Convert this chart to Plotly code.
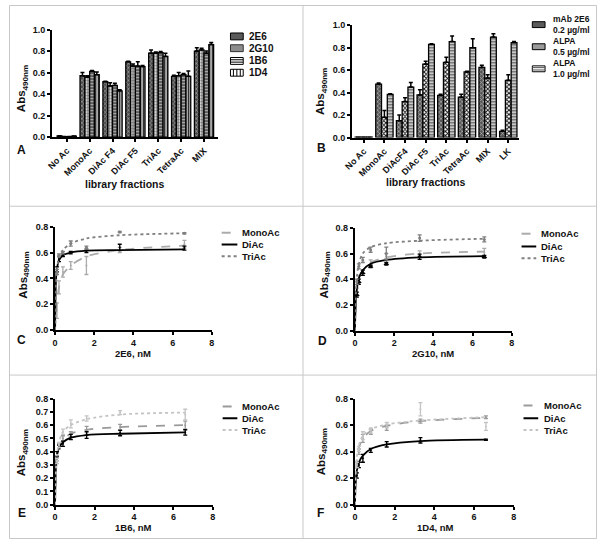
import plotly.graph_objects as go

W, H = 600, 544
def fx(p): return p / W
def fy(p): return 1 - p / H

FONT = "Liberation Sans, Arial, sans-serif"

# ---------------- Panel A data ----------------
A_CATS = ["No Ac", "MonoAc", "DiAc F4", "DiAc F5", "TriAc", "TetraAc", "MIX"]
A_2E6 = [0.010, 0.570, 0.515, 0.700, 0.780, 0.565, 0.800]
A_2E6_ERR = [0.003, 0.030, 0.005, 0.005, 0.030, 0.010, 0.030]
A_2G10 = [0.003, 0.555, 0.475, 0.660, 0.780, 0.570, 0.810]
A_2G10_ERR = [0.002, 0.015, 0.030, 0.020, 0.010, 0.030, 0.015]
A_1B6 = [0.003, 0.610, 0.480, 0.660, 0.785, 0.580, 0.780]
A_1B6_ERR = [0.002, 0.010, 0.020, 0.040, 0.010, 0.010, 0.020]
A_1D4 = [0.008, 0.580, 0.430, 0.655, 0.750, 0.565, 0.860]
A_1D4_ERR = [0.002, 0.025, 0.010, 0.010, 0.030, 0.050, 0.020]

# ---------------- Panel B data ----------------
B_CATS = ["No Ac", "MonoAc", "DiAcF4", "DiAc F5", "TriAc", "TetraAc", "MIX", "LK"]
B_MAB = [0.003, 0.475, 0.150, 0.380, 0.375, 0.360, 0.625, 0.055]
B_MAB_ERR = [0.0, 0.010, 0.050, 0.045, 0.010, 0.025, 0.020, 0.010]
B_ALPA05 = [0.003, 0.180, 0.320, 0.655, 0.670, 0.585, 0.530, 0.510]
B_ALPA05_ERR = [0.0, 0.060, 0.035, 0.025, 0.045, 0.005, 0.030, 0.050]
B_ALPA10 = [0.003, 0.385, 0.450, 0.830, 0.855, 0.800, 0.895, 0.845]
B_ALPA10_ERR = [0.0, 0.005, 0.040, 0.005, 0.050, 0.080, 0.030, 0.010]

# ---------------- Binding panels (C-F) ----------------
CONC = [0.1, 0.2, 0.4, 0.8, 1.6, 3.3, 6.6]
CURVE_X = [0, 0.05, 0.1, 0.2, 0.4, 0.8, 1.6, 3.3, 6.6]

# C: 2E6
C_MONO_CURVE = [0, 0.12, 0.22, 0.33, 0.43, 0.50, 0.57, 0.62, 0.655]
C_DI_CURVE = [0, 0.40, 0.48, 0.54, 0.58, 0.60, 0.615, 0.62, 0.625]
C_TRI_CURVE = [0, 0.35, 0.47, 0.56, 0.62, 0.67, 0.71, 0.735, 0.75]
C_MONO = [0.15, 0.33, 0.45, 0.50, 0.50, 0.62, 0.665]
C_MONO_ERR = [0.06, 0.05, 0.04, 0.03, 0.07, 0.02, 0.03]
C_DI = [0.47, 0.55, 0.58, 0.60, 0.61, 0.64, 0.635]
C_DI_ERR = [0.02, 0.02, 0.01, 0.01, 0.01, 0.025, 0.015]
C_TRI = [0.45, 0.58, 0.60, 0.67, 0.64, 0.76, 0.75]
C_TRI_ERR = [0.02, 0.01, 0.01, 0.02, 0.01, 0.005, 0.005]

# D: 2G10
D_MONO_CURVE = [0, 0.20, 0.30, 0.40, 0.47, 0.53, 0.57, 0.60, 0.615]
D_DI_CURVE = [0, 0.25, 0.33, 0.41, 0.47, 0.52, 0.55, 0.57, 0.58]
D_TRI_CURVE = [0, 0.30, 0.42, 0.52, 0.60, 0.65, 0.68, 0.70, 0.715]
D_MONO = [0.30, 0.40, 0.45, 0.53, 0.58, 0.60, 0.61]
D_MONO_ERR = [0.03, 0.03, 0.02, 0.02, 0.02, 0.02, 0.03]
D_DI = [0.28, 0.38, 0.45, 0.50, 0.52, 0.575, 0.575]
D_DI_ERR = [0.02, 0.02, 0.02, 0.01, 0.01, 0.02, 0.01]
D_TRI = [0.38, 0.50, 0.55, 0.63, 0.60, 0.72, 0.71]
D_TRI_ERR = [0.02, 0.02, 0.02, 0.02, 0.05, 0.025, 0.02]

# E: 1B6
E_MONO_CURVE = [0, 0.25, 0.35, 0.43, 0.49, 0.535, 0.565, 0.585, 0.60]
E_DI_CURVE = [0, 0.30, 0.37, 0.43, 0.47, 0.505, 0.525, 0.535, 0.545]
E_TRI_CURVE = [0, 0.28, 0.38, 0.47, 0.55, 0.60, 0.645, 0.68, 0.695]
E_MONO = [0.35, 0.44, 0.50, 0.53, 0.56, 0.585, 0.60]
E_MONO_ERR = [0.02, 0.02, 0.02, 0.02, 0.03, 0.02, 0.03]
E_DI = [0.38, 0.44, 0.46, 0.51, 0.525, 0.54, 0.545]
E_DI_ERR = [0.02, 0.01, 0.02, 0.02, 0.025, 0.02, 0.02]
E_TRI = [0.33, 0.45, 0.55, 0.61, 0.65, 0.695, 0.68]
E_TRI_ERR = [0.02, 0.02, 0.02, 0.03, 0.02, 0.015, 0.04]

# F: 1D4
F_MONO_CURVE = [0, 0.25, 0.34, 0.43, 0.50, 0.555, 0.595, 0.63, 0.655]
F_DI_CURVE = [0, 0.20, 0.26, 0.32, 0.37, 0.42, 0.455, 0.48, 0.49]
F_TRI_CURVE = [0, 0.27, 0.36, 0.45, 0.52, 0.57, 0.605, 0.635, 0.66]
F_MONO = [0.30, 0.40, 0.50, 0.55, 0.58, 0.63, 0.66]
F_MONO_ERR = [0.02, 0.02, 0.03, 0.02, 0.02, 0.015, 0.01]
F_DI = [0.22, 0.30, 0.35, 0.41, 0.455, 0.485, 0.49]
F_DI_ERR = [0.02, 0.02, 0.03, 0.015, 0.02, 0.02, 0.005]
F_TRI = [0.30, 0.42, 0.52, 0.56, 0.60, 0.72, 0.59]
F_TRI_ERR = [0.02, 0.02, 0.03, 0.02, 0.02, 0.05, 0.03]

fig = go.Figure()

def up_err(vals):
    return dict(type="data", array=vals, arrayminus=[0] * len(vals), symmetric=False,
                color="black", thickness=1.5, width=2)

def bar(x, y, err, name, bg, shape, fg, sol, xa, ya):
    fig.add_trace(go.Bar(
        x=x, y=y, name=name, xaxis=xa, yaxis=ya, showlegend=False,
        marker=dict(color=bg, line=dict(color="black", width=1.3),
                    pattern=dict(shape=shape, fgcolor=fg, bgcolor=bg, size=3, solidity=sol, fillmode="replace")),
        error_y=up_err(err)))

bar(A_CATS, A_2E6, A_2E6_ERR, "2E6", "#4a4a4a", "x", "#b0b0b0", 0.35, "x", "y")
bar(A_CATS, A_2G10, A_2G10_ERR, "2G10", "#707070", ".", "#ffffff", 0.4, "x", "y")
bar(A_CATS, A_1B6, A_1B6_ERR, "1B6", "#ffffff", "-", "#222222", 0.6, "x", "y")
bar(A_CATS, A_1D4, A_1D4_ERR, "1D4", "#ffffff", "|", "#222222", 0.6, "x", "y")

bar(B_CATS, B_MAB, B_MAB_ERR, "mAb 2E6 0.2 µg/ml", "#555555", "x", "#c0c0c0", 0.35, "x2", "y2")
bar(B_CATS, B_ALPA05, B_ALPA05_ERR, "ALPA 0.5 µg/ml", "#ffffff", "x", "#111111", 0.55, "x2", "y2")
bar(B_CATS, B_ALPA10, B_ALPA10_ERR, "ALPA 1.0 µg/ml", "#ffffff", "-", "#555555", 0.55, "x2", "y2")

def binding(xa, ya, curves, pts, styles):
    for (name, cy), (_, py, pe), (color, dash, msym, msize) in zip(curves, pts, styles):
        fig.add_trace(go.Scatter(x=CURVE_X, y=cy, mode="lines", name=name, xaxis=xa, yaxis=ya,
                                 showlegend=False, line=dict(color=color, width=1.8, dash=dash, shape="spline", smoothing=0.8)))
        fig.add_trace(go.Scatter(x=CONC, y=py, mode="markers", name=name + " data", xaxis=xa, yaxis=ya,
                                 showlegend=False, marker=dict(color=color, size=msize, symbol=msym),
                                 error_y=dict(type="data", array=pe, color=color, thickness=1.3, width=2)))

styles_CD = [("#ababab", "dash", "circle", 2), ("#000000", "solid", "circle", 2), ("#808080", "dot", "circle", 3)]
styles_D = [("#ababab", "dash", "circle", 2), ("#000000", "solid", "triangle-up", 5), ("#808080", "dot", "circle", 3)]
styles_EF = [("#9a9a9a", "dash", "circle", 2), ("#000000", "solid", "circle", 2), ("#c4c4c4", "dot", "circle", 2)]

binding("x3", "y3", [("MonoAc", C_MONO_CURVE), ("DiAc", C_DI_CURVE), ("TriAc", C_TRI_CURVE)],
        [("MonoAc", C_MONO, C_MONO_ERR), ("DiAc", C_DI, C_DI_ERR), ("TriAc", C_TRI, C_TRI_ERR)], styles_CD)
binding("x4", "y4", [("MonoAc", D_MONO_CURVE), ("DiAc", D_DI_CURVE), ("TriAc", D_TRI_CURVE)],
        [("MonoAc", D_MONO, D_MONO_ERR), ("DiAc", D_DI, D_DI_ERR), ("TriAc", D_TRI, D_TRI_ERR)], styles_D)
binding("x5", "y5", [("MonoAc", E_MONO_CURVE), ("DiAc", E_DI_CURVE), ("TriAc", E_TRI_CURVE)],
        [("MonoAc", E_MONO, E_MONO_ERR), ("DiAc", E_DI, E_DI_ERR), ("TriAc", E_TRI, E_TRI_ERR)], styles_EF)
binding("x6", "y6", [("MonoAc", F_MONO_CURVE), ("DiAc", F_DI_CURVE), ("TriAc", F_TRI_CURVE)],
        [("MonoAc", F_MONO, F_MONO_ERR), ("DiAc", F_DI, F_DI_ERR), ("TriAc", F_TRI, F_TRI_ERR)], styles_EF)

def ax(**kw):
    d = dict(showline=True, linecolor="black", linewidth=2, ticks="outside", ticklen=3, tickwidth=1.5,
             tickcolor="black", showgrid=False, zeroline=False, tickfont=dict(size=9, family=FONT, color="#111"))
    d.update(kw)
    return d

layout = dict(
    width=W, height=H, margin=dict(l=0, r=0, t=0, b=0), paper_bgcolor="white", plot_bgcolor="white",
    font=dict(family=FONT, color="#111", weight="bold"), barmode="group", bargap=0.16, bargroupgap=0.0,
    showlegend=False,
    xaxis=ax(domain=[fx(44), fx(213)], anchor="y", type="category", range=[-0.64, 6.6], tickangle=-45),
    yaxis=ax(domain=[fy(134.5), fy(25)], anchor="x", range=[0, 1.0], dtick=0.2, tickformat=".1f"),
    xaxis2=ax(domain=[fx(350), fx(520)], anchor="y2", type="category", range=[-0.57, 7.5], tickangle=-45),
    yaxis2=ax(domain=[fy(135), fy(20.7)], anchor="x2", range=[0, 1.0], dtick=0.2, tickformat=".1f"),
    xaxis3=ax(domain=[fx(47), fx(207)], anchor="y3", range=[0, 8], dtick=2),
    yaxis3=ax(domain=[fy(331), fy(226)], anchor="x3", range=[0, 0.8], dtick=0.2, tickformat=".1f"),
    xaxis4=ax(domain=[fx(353), fx(513)], anchor="y4", range=[0, 8], dtick=2),
    yaxis4=ax(domain=[fy(331.7), fy(227)], anchor="x4", range=[0, 0.8], dtick=0.2, tickformat=".1f"),
    xaxis5=ax(domain=[fx(47), fx(208)], anchor="y5", range=[0, 8], dtick=2),
    yaxis5=ax(domain=[fy(509), fy(401)], anchor="x5", range=[0, 0.8], dtick=0.1, tickformat=".1f"),
    xaxis6=ax(domain=[fx(353), fx(515)], anchor="y6", range=[0, 8], dtick=2),
    yaxis6=ax(domain=[fy(509), fy(401)], anchor="x6", range=[0, 0.8], dtick=0.2, tickformat=".1f"),
)
fig.update_layout(**layout)

ann = []
shapes = []

def text(x, y, s, size=10, angle=0, xanchor="center"):
    ann.append(dict(x=fx(x), y=fy(y), xref="paper", yref="paper", text=s, showarrow=False,
                    font=dict(size=size, family=FONT, color="#111", weight="bold"), textangle=angle,
                    xanchor=xanchor, yanchor="middle", align="left", borderpad=0))

# axis titles
text(118, 182, "library fractions", 10.5)
text(426, 180, "library fractions", 10.5)
text(127, 355, "2E6, nM", 9.5)
text(433, 355, "2G10, nM", 9.5)
text(127, 532, "1B6, nM", 9.5)
text(435, 532, "1D4, nM", 9.5)
for (x, y) in [(14, 85), (319, 88), (15, 275), (322, 275), (13, 456), (319, 455)]:
    text(x, y, "Abs<sub>490nm</sub>", 11.5, -90)
# panel letters
for (x, y, s) in [(13, 148, "A"), (319, 146, "B"), (13, 341, "C"), (320, 342, "D"), (13, 518, "E"), (318, 518, "F")]:
    text(x, y, s, 12)

# panel frame lines
FR = "#c8c8c8"
for (x0, y0, x1, y1) in [(0.5, 0.5, 599.5, 0.5), (0.5, 543.5, 599.5, 543.5), (0.5, 0.5, 0.5, 543.5),
                         (599.5, 0.5, 599.5, 543.5), (300, 0, 300, 544), (0, 205, 600, 205), (0, 377, 600, 377)]:
    shapes.append(dict(type="line", xref="paper", yref="paper", x0=fx(x0), y0=fy(y0), x1=fx(x1), y1=fy(y1),
                       line=dict(color=FR, width=1)))

def rect(x0, y0, x1, y1, fill, line="black"):
    shapes.append(dict(type="rect", xref="paper", yref="paper", x0=fx(x0), y0=fy(y0), x1=fx(x1), y1=fy(y1),
                       fillcolor=fill, line=dict(color=line, width=1)))

def seg(x0, y0, x1, y1, color, width=1, dash="solid"):
    shapes.append(dict(type="line", xref="paper", yref="paper", x0=fx(x0), y0=fy(y0), x1=fx(x1), y1=fy(y1),
                       line=dict(color=color, width=width, dash=dash)))

# Legend A
A_LEG = ["2E6", "2G10", "1B6", "1D4"]
for i, (name, yc) in enumerate(zip(A_LEG, [32, 44, 57, 69])):
    x0, x1, y0, y1 = 226, 239, yc - 3.5, yc + 3.5
    if i == 0:
        rect(x0, y0, x1, y1, "#5a5a5a")
    elif i == 1:
        rect(x0, y0, x1, y1, "#8c8c8c", "#333")
    elif i == 2:
        rect(x0, y0, x1, y1, "white")
        for yy in [yc - 1.2, yc + 1.2]:
            seg(x0, yy, x1, yy, "black", 1)
    else:
        rect(x0, y0, x1, y1, "white")
        for xx in [x0 + 3, x0 + 6.5, x0 + 10]:
            seg(xx, y0, xx, y1, "black", 1)
    text(244, yc, name, 10, xanchor="left")

# Legend B
B_LEG = ["mAb 2E6<br>0.2 µg/ml", "ALPA<br>0.5 µg/ml", "ALPA<br>1.0 µg/ml"]
for i, (name, yc) in enumerate(zip(B_LEG, [20, 42.5, 65])):
    x0, x1, y0, y1 = 534, 547, yc - 3, yc + 3
    if i == 0:
        rect(x0, y0, x1, y1, "#5a5a5a")
    elif i == 1:
        rect(x0, y0, x1, y1, "#9a9a9a")
    else:
        rect(x0, y0, x1, y1, "white")
        for yy in [yc - 1.2, yc + 1.2]:
            seg(x0, yy, x1, yy, "#555", 1)
    text(554, yc, name, 8.5, xanchor="left")

# Legends C-F
LINE_LEG = ["MonoAc", "DiAc", "TriAc"]
for (lx0, lx1, tx, ys, st) in [(217, 233, 237, [232, 244, 256], styles_CD),
                               (523, 538, 542, [233, 246, 258], styles_D),
                               (218, 233, 237, [409, 421, 433], styles_EF),
                               (525, 540, 545, [408, 421, 433], styles_EF)]:
    for name, yy, (color, dash, _, _) in zip(LINE_LEG, ys, st):
        seg(lx0, yy, lx1, yy, color, 2, dash)
        text(tx, yy, name, 9.5, xanchor="left")

fig.update_layout(annotations=ann, shapes=shapes)
fig.write_html("out.html", config={"displayModeBar": False},
               post_script="document.body.style.margin='0';document.body.style.padding='0';")
